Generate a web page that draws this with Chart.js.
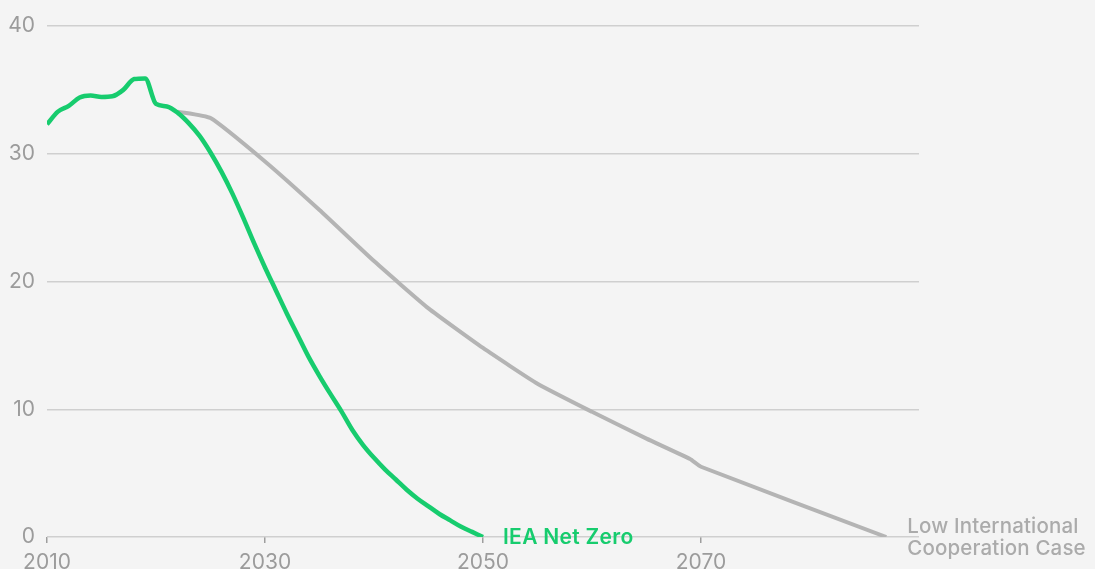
<!DOCTYPE html>
<html>
<head>
<meta charset="utf-8">
<script src="https://cdn.jsdelivr.net/npm/chart.js@4/dist/chart.umd.min.js"></script>
<style>
  html, body { margin: 0; padding: 0; background: #f4f4f4; }
  #wrap { width: 1095px; height: 569px; position: relative; }
</style>
</head>
<body>
<div id="wrap"><canvas id="c" width="1095" height="569"></canvas></div>
<script>
// Emissions pathways (Gt CO2) by year
const netZeroYears = [2010,2011,2012,2013,2014,2015,2016,2017,2018,2019,2020,2021,2022,2023,2024,2025,2026,2027,2028,2029,2030,2031,2032,2033,2034,2035,2036,2037,2038,2039,2040,2041,2042,2043,2044,2045,2046,2047,2048,2049,2050];
const netZeroValues = [32.3,33.3,33.75,34.4,34.55,34.45,34.5,35.0,35.85,35.9,33.9,33.7,33.2,32.4,31.4,30.1,28.6,26.9,25.0,23.0,21.1,19.3,17.5,15.8,14.1,12.6,11.2,9.85,8.4,7.2,6.2,5.3,4.5,3.7,3.0,2.4,1.8,1.3,0.8,0.4,0.0];

const lowCoopYears = [2022,2025,2030,2035,2040,2045,2050,2055,2060,2065,2069,2070,2087];
const lowCoopValues = [33.3,32.8,29.4,25.6,21.6,17.9,14.8,12.0,9.8,7.7,6.1,5.5,0.0];

const yTicks = [0,10,20,30,40];
const xTickLabels = [2010,2030,2050,2070];

const netZeroLabel = 'IEA Net Zero';
const lowCoopLabel = ['Low International', 'Cooperation Case'];

const GREEN = '#17cc6e';
const GREY_LINE = '#b4b4b4';
const TEXT = '#9b9b9b';
const FONT = 'Inter, "Open Sans", sans-serif';

const toPoints = (xs, ys) => xs.map((x, i) => ({ x, y: ys[i] }));

// End-of-line series labels
const endLabels = {
  id: 'endLabels',
  afterDatasetsDraw(chart) {
    const { ctx, scales } = chart;
    const x = scales.x, y = scales.y;
    ctx.save();
    ctx.textBaseline = 'middle';
    ctx.textAlign = 'left';

    const nzX = x.getPixelForValue(netZeroYears[netZeroYears.length - 1]) + 20;
    const nzY = y.getPixelForValue(netZeroValues[netZeroValues.length - 1]);
    ctx.fillStyle = GREEN;
    ctx.font = '600 21px ' + FONT;
    ctx.letterSpacing = '0.3px';
    ctx.fillText(netZeroLabel, nzX, nzY + 1);

    const lcX = x.getPixelForValue(lowCoopYears[lowCoopYears.length - 1]) + 21;
    const lcY = y.getPixelForValue(lowCoopValues[lowCoopValues.length - 1]);
    ctx.fillStyle = '#ababab';
    ctx.font = '500 20.5px ' + FONT;
    ctx.letterSpacing = '0.15px';
    ctx.fillText(lowCoopLabel[0], lcX, lcY - 10);
    ctx.fillText(lowCoopLabel[1], lcX, lcY + 12);
    ctx.restore();
  }
};

new Chart(document.getElementById('c'), {
  type: 'line',
  data: {
    datasets: [
      {
        label: lowCoopLabel.join(' '),
        data: toPoints(lowCoopYears, lowCoopValues),
        borderColor: GREY_LINE,
        borderWidth: 4,
        pointRadius: 0,
        tension: 0.15,
        order: 2
      },
      {
        label: netZeroLabel,
        data: toPoints(netZeroYears, netZeroValues),
        borderColor: GREEN,
        borderWidth: 4.5,
        pointRadius: 0,
        cubicInterpolationMode: 'monotone',
        order: 1
      }
    ]
  },
  options: {
    responsive: false,
    animation: false,
    events: [],
    layout: { padding: { top: 26, right: 176, left: 0, bottom: 0 } },
    plugins: { legend: { display: false }, tooltip: { enabled: false } },
    scales: {
      x: {
        type: 'linear',
        min: 2010,
        max: 2090,
        afterBuildTicks(axis) {
          axis.ticks = [...xTickLabels, 2090].map(v => ({ value: v }));
        },
        afterFit(axis) { axis.height = 32; },
        border: { display: false },
        grid: {
          drawOnChartArea: false,
          drawTicks: true,
          tickLength: 6,
          color: '#9e9e9e',
          lineWidth: 1.5
        },
        ticks: {
          padding: 7,
          color: TEXT,
          font: { family: FONT, size: 21 },
          maxRotation: 0,
          callback: v => xTickLabels.includes(v) ? String(v) : null
        }
      },
      y: {
        min: 0,
        max: 40,
        afterBuildTicks(axis) {
          axis.ticks = yTicks.map(v => ({ value: v }));
        },
        afterFit(axis) { axis.width = 47; },
        border: { display: false },
        grid: {
          drawTicks: false,
          color: '#cfcfcf',
          lineWidth: 1.5
        },
        ticks: {
          padding: 12,
          color: TEXT,
          font: { family: FONT, size: 21 }
        }
      }
    }
  },
  plugins: [endLabels]
});
</script>
</body>
</html>
